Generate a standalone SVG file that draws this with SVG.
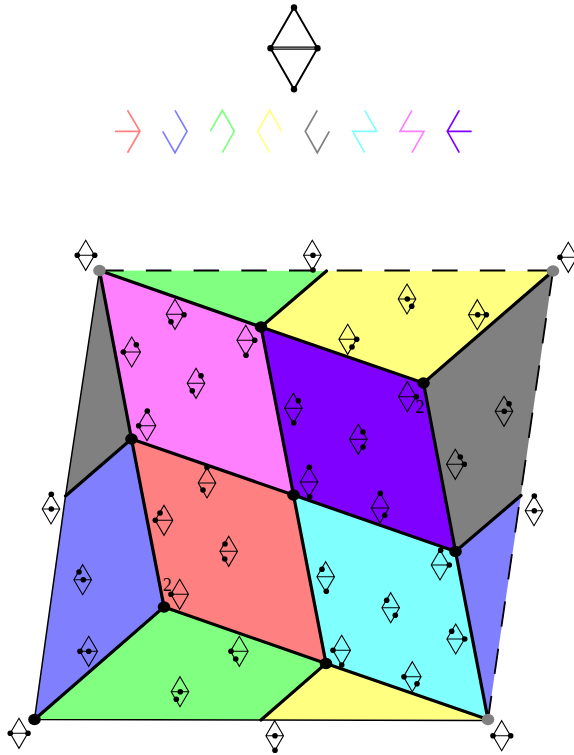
<svg xmlns="http://www.w3.org/2000/svg" width="574" height="755" viewBox="0 0 574 755">
<style>
.lg{fill:none;stroke-width:1.7}
.thick{fill:none;stroke:#000;stroke-width:3.2;stroke-linecap:round}
.thin{fill:none;stroke:#000;stroke-width:1.5}
.dash{fill:none;stroke:#000;stroke-width:1.8;stroke-dasharray:25.5 22.2}
.m{fill:none;stroke:#000;stroke-width:1.1}
.d{fill:#000;r:2.8px}
.n{fill:#000}
.g{fill:#808080}
.lab{font-family:"Liberation Serif",serif;font-size:18px;fill:#000}
.top{fill:none;stroke:#000;stroke-width:1.9}
.topbar{fill:none;stroke:#000;stroke-width:1.2}
</style>
<defs>
<g id="mini"><path class="m" d="M0-15L8.8 0L0 15L-8.8 0ZM-8.8 0H8.8"/></g>
</defs>
<rect width="574" height="755" fill="#fff"/>
<g id="key-top">
<path class="top" d="M294 7.5L317.5 48.3L294 89.3L270.5 48.3Z M294 7.5"/>
<path class="topbar" d="M270.5 47.2H317.5M270.5 49.2H317.5"/>
<circle cx="294" cy="7.5" r="3.2"/><circle cx="270.5" cy="48.3" r="3.2"/><circle cx="317.5" cy="48.3" r="3.2"/><circle cx="294" cy="89.3" r="3.2"/>
</g>
<g id="legend">
<path class="lg" stroke="#ff8080" d="M115 131.3H140M127.5 110.3L140 131.3L127.5 152.7"/>
<path class="lg" stroke="#8080ff" d="M175 110.3L187 131.3L175 152.7L162.7 131.3"/>
<path class="lg" stroke="#80ff80" d="M210.3 131.3L222.3 110.3L234.3 131.3L222.3 152.7"/>
<path class="lg" stroke="#ffff80" d="M281.7 131.3L269.7 110.3L257.7 131.3L269.7 152.7"/>
<path class="lg" stroke="#808080" d="M317.3 110.3L305.3 131.3L317.3 152.7L329.3 131.3"/>
<path class="lg" stroke="#80ffff" d="M364.7 110.3L376.7 131.3H352.7L364.7 152.7"/>
<path class="lg" stroke="#ff80ff" d="M412 110.3L400 131.3H424L412 152.7"/>
<path class="lg" stroke="#8000ff" d="M459.3 110.3L447.3 131.3L459.3 152.7M471.7 131.3H447.3"/>
</g>
<g id="faces">
<path id="f-green-top" fill="#80ff80" d="M99.5 270.5L326.5 271L261 327Z"/>
<path id="f-yellow-top" fill="#ffff80" d="M326.5 271L553 271L423.5 383L261 327Z"/>
<path id="f-magenta" fill="#ff80ff" d="M99.5 270.5L261 327L293.5 495L131.5 439Z"/>
<path id="f-purple" fill="#8000ff" d="M261 327L423.5 383L455.5 551.5L293.5 495Z"/>
<path id="f-gray-left" fill="#808080" d="M99.5 270.5L131.5 439L65.5 496Z"/>
<path id="f-gray-right" fill="#808080" d="M553 271L521 495.5L455.5 551.5L423.5 383Z"/>
<path id="f-blue-left" fill="#8080ff" d="M65.5 496L131.5 439L164 607L34.5 719.5Z"/>
<path id="f-blue-right" fill="#8080ff" d="M455.5 551.5L521 495.5L488 719.5Z"/>
<path id="f-red" fill="#ff8080" d="M131.5 439L293.5 495L326 663.5L164 607Z"/>
<path id="f-cyan" fill="#80ffff" d="M293.5 495L455.5 551.5L488 719.5L326 663.5Z"/>
<path id="f-green-bottom" fill="#80ff80" d="M34.5 719.5L164 607L326 663.5L261 720Z"/>
<path id="f-yellow-bottom" fill="#ffff80" d="M261 720L326 663.5L488 719.5Z"/>
</g>
<g id="connectors">
<path class="thin" d="M99.5 270.5L65.5 496L34.5 719.5L488 720.5"/>
<path class="dash" d="M553 270.5H99.5"/>
<path class="dash" d="M553 271L488 719.5"/>
<path class="thick" d="M99.5 270.5L261 327L423.5 383L553 271M261 327L326.5 271M99.5 270.5L131.5 439L164 607L34.5 719.5M131.5 439L65.5 496M131.5 439L293.5 495L455.5 551.5L521 495.5M261 327L293.5 495L326 663.5L261 720M423.5 383L455.5 551.5L488 719.5M164 607L326 663.5L488 719.5"/>
</g>
<g id="vertices">
<ellipse class="g" cx="99.5" cy="270.5" rx="6.3" ry="5.8"/><ellipse class="g" cx="553" cy="271" rx="6.3" ry="5.8"/><ellipse class="g" cx="488" cy="719.5" rx="6.3" ry="5.8"/>
<ellipse class="n" cx="34.5" cy="719.5" rx="6.3" ry="5.8"/><ellipse class="n" cx="261" cy="327" rx="6.3" ry="5.8"/><ellipse class="n" cx="131.5" cy="439" rx="6.3" ry="5.8"/><ellipse class="n" cx="423.5" cy="383" rx="6.3" ry="5.8"/><ellipse class="n" cx="293.5" cy="495" rx="6.3" ry="5.8"/><ellipse class="n" cx="455.5" cy="551.5" rx="6.3" ry="5.8"/><ellipse class="n" cx="164" cy="607" rx="6.3" ry="5.8"/><ellipse class="n" cx="326" cy="663.5" rx="6.3" ry="5.8"/>
</g>
<g id="g1"><use href="#mini" x="85.7" y="255.3"/><circle class="d" cx="77.3" cy="255.3"/><circle class="d" cx="94.7" cy="255.3"/></g>
<g id="g2"><use href="#mini" x="312.3" y="255.3"/><circle class="d" cx="313" cy="255.3"/><circle class="d" cx="313" cy="270"/></g>
<g id="g3"><use href="#mini" x="175" y="314.3"/><circle class="d" cx="184" cy="314.7"/><circle class="d" cx="171" cy="321.7"/></g>
<g id="g4"><use href="#mini" x="245.7" y="340.3"/><circle class="d" cx="254.7" cy="340.3"/><circle class="d" cx="246" cy="355.3"/></g>
<g id="g5"><use href="#mini" x="131.7" y="352"/><circle class="d" cx="123.3" cy="352"/><circle class="d" cx="136.3" cy="344.7"/></g>
<g id="g6"><use href="#mini" x="196" y="383.3"/><circle class="d" cx="201" cy="375.7"/><circle class="d" cx="192.3" cy="390.7"/></g>
<g id="g7"><use href="#mini" x="147" y="425.7"/><circle class="d" cx="147.3" cy="411"/><circle class="d" cx="138.7" cy="425.7"/></g>
<g id="g8"><use href="#mini" x="293.3" y="408.3"/><circle class="d" cx="298.3" cy="400.7"/><circle class="d" cx="293.7" cy="422.7"/></g>
<g id="g9"><use href="#mini" x="309" y="482"/><circle class="d" cx="309.3" cy="467.3"/><circle class="d" cx="309.7" cy="496.7"/></g>
<g id="g10"><use href="#mini" x="207" y="483"/><circle class="d" cx="207" cy="467.5"/><circle class="d" cx="203" cy="490"/></g>
<g id="g12"><use href="#mini" x="568.3" y="257.3"/><circle class="d" cx="560" cy="257.3"/></g>
<g id="g13"><use href="#mini" x="407" y="299"/><circle class="d" cx="407.3" cy="299"/><circle class="d" cx="411.7" cy="306.3"/></g>
<g id="g14"><use href="#mini" x="477.3" y="314.7"/><circle class="d" cx="477.7" cy="314.7"/><circle class="d" cx="486.3" cy="314.7"/></g>
<g id="g15"><use href="#mini" x="347.7" y="339.3"/><circle class="d" cx="356.7" cy="339.3"/><circle class="d" cx="352" cy="347"/></g>
<g id="g16"><use href="#mini" x="407.3" y="396.7"/><circle class="d" cx="416.3" cy="396.7"/><text class="lab" x="415.5" y="412.7">2</text></g>
<g id="g17"><use href="#mini" x="358.3" y="439.3"/><circle class="d" cx="363" cy="432"/><circle class="d" cx="363" cy="447"/></g>
<g id="g18"><use href="#mini" x="504" y="411.3"/><circle class="d" cx="509" cy="403.7"/><circle class="d" cx="504.3" cy="411.3"/></g>
<g id="g19"><use href="#mini" x="455.3" y="464.3"/><circle class="d" cx="460.3" cy="457"/><circle class="d" cx="464.3" cy="464.3"/></g>
<g id="g20"><use href="#mini" x="380" y="508"/><circle class="d" cx="380.3" cy="493.3"/><circle class="d" cx="384.7" cy="515.3"/></g>
<g id="g21"><use href="#mini" x="51" y="509"/><circle class="d" cx="51.3" cy="494.3"/><circle class="d" cx="51.3" cy="509"/></g>
<g id="g22"><use href="#mini" x="164" y="520.3"/><circle class="d" cx="160" cy="513"/><circle class="d" cx="155.3" cy="520.3"/></g>
<g id="g23"><use href="#mini" x="228.7" y="551.3"/><circle class="d" cx="225" cy="544"/><circle class="d" cx="224.7" cy="559"/></g>
<g id="g24"><use href="#mini" x="179.7" y="594.3"/><circle class="d" cx="171" cy="594.3"/><text class="lab" x="162.7" y="591">2</text></g>
<g id="g25"><use href="#mini" x="82.7" y="579.7"/><circle class="d" cx="79" cy="572"/><circle class="d" cx="83.3" cy="579.7"/></g>
<g id="g26"><use href="#mini" x="88.7" y="651.3"/><circle class="d" cx="80" cy="651.3"/><circle class="d" cx="88.7" cy="651.3"/></g>
<g id="g27"><use href="#mini" x="239.3" y="651.3"/><circle class="d" cx="231" cy="651.3"/><circle class="d" cx="235.7" cy="659"/></g>
<g id="g28"><use href="#mini" x="180" y="691.7"/><circle class="d" cx="180.3" cy="691.7"/><circle class="d" cx="176.3" cy="699.3"/></g>
<g id="g29"><use href="#mini" x="19" y="733.3"/><circle class="d" cx="10.3" cy="733.3"/><circle class="d" cx="28" cy="733.3"/></g>
<g id="g30"><use href="#mini" x="274.7" y="735.7"/><circle class="d" cx="275" cy="735.7"/><circle class="d" cx="275" cy="750.3"/></g>
<g id="g31"><use href="#mini" x="534" y="510.7"/><circle class="d" cx="534.3" cy="496"/><circle class="d" cx="534.3" cy="510.7"/></g>
<g id="g32"><use href="#mini" x="325.7" y="576.7"/><circle class="d" cx="322" cy="569.3"/><circle class="d" cx="326.3" cy="591.3"/></g>
<g id="g33"><use href="#mini" x="440" y="565"/><circle class="d" cx="440.7" cy="550.3"/><circle class="d" cx="449.3" cy="565"/></g>
<g id="g34"><use href="#mini" x="390.7" y="607.7"/><circle class="d" cx="386.7" cy="600.3"/><circle class="d" cx="395.3" cy="615.3"/></g>
<g id="g35"><use href="#mini" x="455.7" y="639"/><circle class="d" cx="451.7" cy="631.3"/><circle class="d" cx="464.7" cy="639"/></g>
<g id="g36"><use href="#mini" x="341.7" y="650.3"/><circle class="d" cx="333" cy="650.3"/><circle class="d" cx="341.7" cy="665"/></g>
<g id="g37"><use href="#mini" x="412.3" y="676.7"/><circle class="d" cx="404" cy="676.7"/><circle class="d" cx="417" cy="683.7"/></g>
<g id="g38"><use href="#mini" x="501.7" y="735.7"/><circle class="d" cx="493" cy="735.7"/><circle class="d" cx="510.7" cy="735.7"/></g>
</svg>
